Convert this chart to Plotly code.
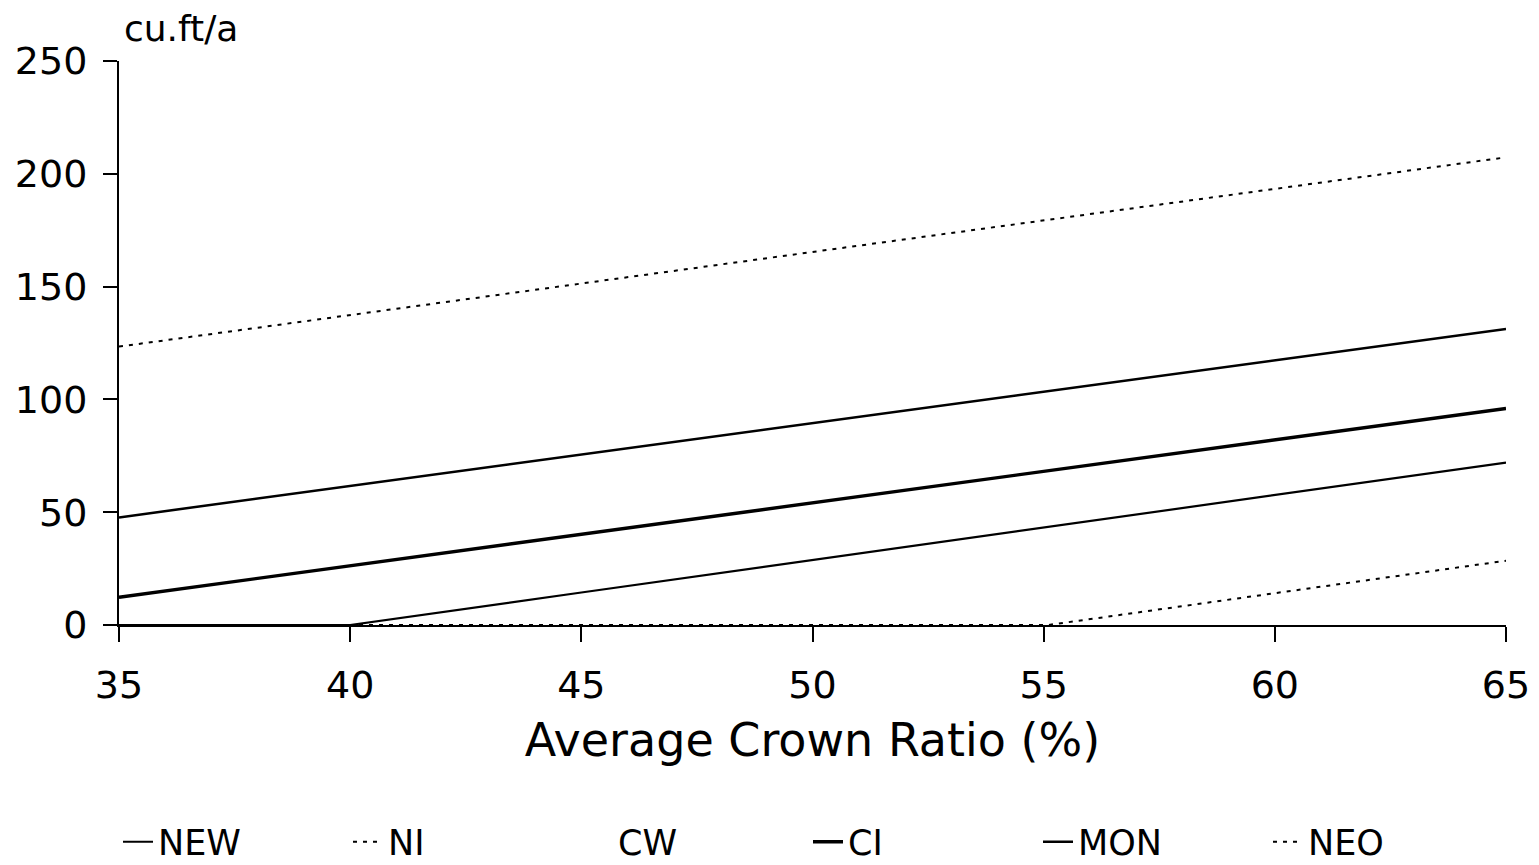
import plotly.graph_objects as go

# Data
crown_ratio = [35, 40, 45, 50, 55, 60, 65]
NEW = [0, 0, 14.4, 28.8, 43.2, 57.6, 72.0]
NI = [123.4, 137.4, 151.4, 165.3, 179.3, 193.3, 207.3]
CW = [12.3, 26.3, 40.2, 54.2, 68.1, 82.0, 96.0]
CI = [12.3, 26.3, 40.2, 54.2, 68.1, 82.0, 96.0]
MON = [47.7, 61.6, 75.5, 89.5, 103.4, 117.3, 131.2]
NEO_x = [35, 55.1, 60, 65]
NEO = [0, 0, 14.1, 28.5]

x_ticks = [35, 40, 45, 50, 55, 60, 65]
y_ticks = [0, 50, 100, 150, 200, 250]

FONT = "DejaVu Sans, Liberation Sans, sans-serif"
W, H = 1531, 857  # page has an 8px body margin

fig = go.Figure()
fig.add_trace(go.Scatter(x=crown_ratio, y=NEW, name="NEW", mode="lines",
                         line=dict(color="black", width=2.2)))
fig.add_trace(go.Scatter(x=crown_ratio, y=NI, name="NI", mode="lines",
                         line=dict(color="black", width=2, dash="4px,6px")))
fig.add_trace(go.Scatter(x=crown_ratio, y=CW, name="CW", mode="lines",
                         line=dict(color="rgba(0,0,0,0)", width=2)))
fig.add_trace(go.Scatter(x=crown_ratio, y=CI, name="CI", mode="lines",
                         line=dict(color="black", width=3.4)))
fig.add_trace(go.Scatter(x=crown_ratio, y=MON, name="MON", mode="lines",
                         line=dict(color="black", width=2.5)))
fig.add_trace(go.Scatter(x=NEO_x, y=NEO, name="NEO", mode="lines",
                         line=dict(color="black", width=2, dash="4px,6px")))

fig.update_layout(
    width=W, height=H,
    paper_bgcolor="white", plot_bgcolor="white",
    margin=dict(l=111, r=33, t=53, b=240, autoexpand=False),
    font=dict(family=FONT, color="black", size=38),
    showlegend=True,
    legend=dict(orientation="h", x=110 / W, xanchor="left", xref="container",
                y=23 / H, yanchor="middle", yref="container", font=dict(size=35),
                entrywidth=185, entrywidthmode="pixels", tracegroupgap=0,
                bgcolor="rgba(0,0,0,0)"),
    xaxis=dict(range=[35, 65], tickvals=x_ticks, showgrid=False, zeroline=False,
               showline=True, linecolor="black", linewidth=2, automargin=False,
               ticks="outside", ticklen=15, tickwidth=2, tickcolor="black",
               tickfont=dict(size=38), ticklabelstandoff=10,
               title=dict(text="Average Crown Ratio (%)", font=dict(size=46), standoff=18)),
    yaxis=dict(range=[0, 250], tickvals=y_ticks, showgrid=False, zeroline=False,
               showline=True, linecolor="black", linewidth=2, automargin=False,
               ticks="outside", ticklen=14, tickwidth=2, tickcolor="black",
               tickfont=dict(size=38), ticklabelstandoff=8),
    annotations=[dict(text="cu.ft/a", xref="paper", yref="paper", x=0.002, y=1.0,
                      yshift=10, xanchor="left", yanchor="bottom", showarrow=False,
                      font=dict(size=36))],
)

fig.write_html("out.html")
